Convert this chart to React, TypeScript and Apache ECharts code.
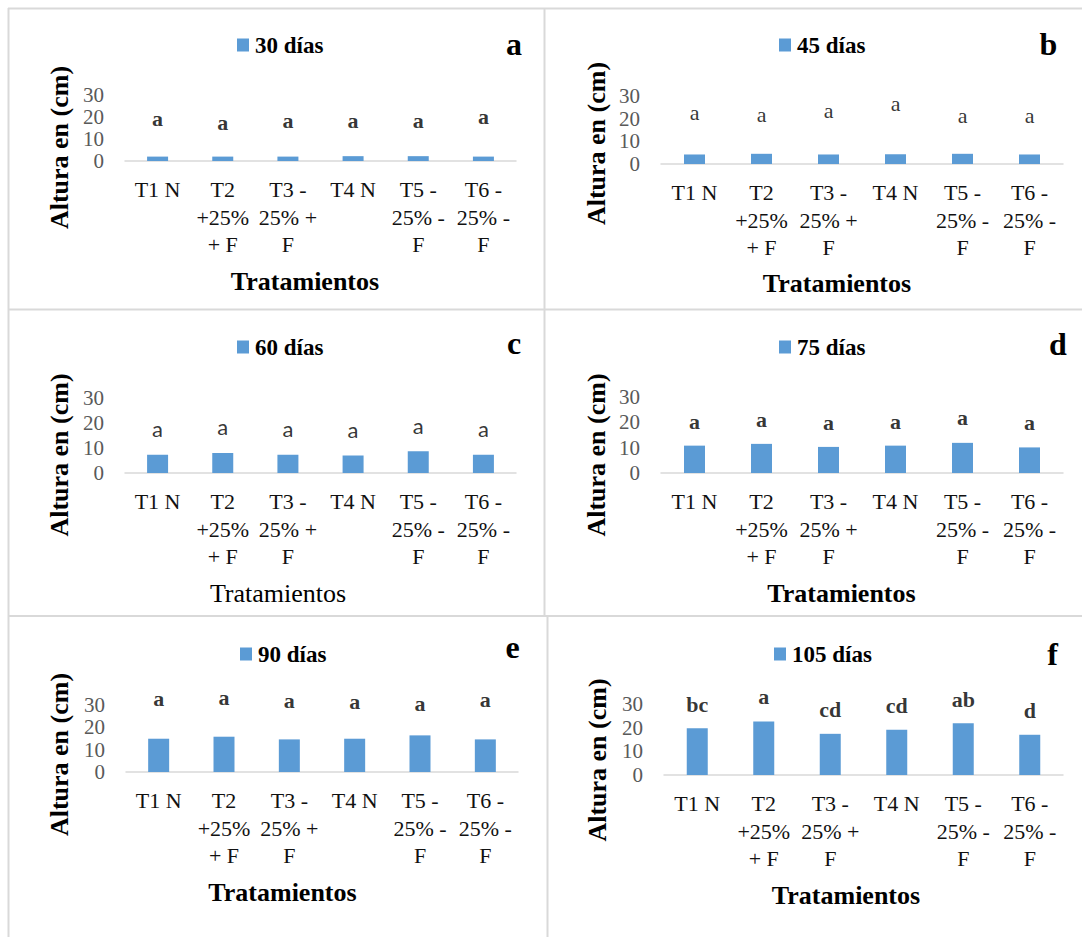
import React, { useEffect, useRef } from "react";
import * as echarts from "echarts";

// ---- Data ----
const categories = [
  "T1 N",
  "T2\n+25%\n+ F",
  "T3 -\n25% +\nF",
  "T4 N",
  "T5 -\n25% -\nF",
  "T6 -\n25% -\nF",
];
const yTicks = [0, 10, 20, 30];
const seriesNames = ["30 días", "45 días", "60 días", "75 días", "90 días", "105 días"];
const panelLetters = ["a", "b", "c", "d", "e", "f"];

const alturas30 = [2.0, 2.0, 2.0, 2.2, 2.2, 2.0];
const alturas45 = [4.2, 4.5, 4.2, 4.3, 4.5, 4.2];
const alturas60 = [7.3, 8.0, 7.3, 7.0, 8.7, 7.3];
const alturas75 = [10.8, 11.5, 10.3, 10.8, 11.9, 10.1];
const alturas90 = [14.9, 15.8, 14.6, 14.9, 16.4, 14.6];
const alturas105 = [19.8, 22.6, 17.4, 19.1, 21.9, 17.0];

// significance letters and the height (axis units) at which they are printed
const letras30 = ["a", "a", "a", "a", "a", "a"];
const posLetras30 = [18.6, 16.4, 17.3, 17.3, 17.7, 19.1];
const letras45 = ["a", "a", "a", "a", "a", "a"];
const posLetras45 = [22.0, 21.1, 22.9, 26.0, 20.3, 20.7];
const letras60 = ["a", "a", "a", "a", "a", "a"];
const posLetras60 = [17.2, 18.0, 17.2, 16.8, 18.4, 17.2];
const letras75 = ["a", "a", "a", "a", "a", "a"];
const posLetras75 = [19.6, 20.3, 19.1, 19.6, 21.1, 19.1];
const letras90 = ["a", "a", "a", "a", "a", "a"];
const posLetras90 = [31.8, 32.3, 31.2, 30.8, 30.0, 31.5];
const letras105 = ["bc", "a", "cd", "cd", "ab", "d"];
const posLetras105 = [30.0, 33.3, 27.8, 29.4, 31.8, 27.3];

const valores = [alturas30, alturas45, alturas60, alturas75, alturas90, alturas105];
const letras = [letras30, letras45, letras60, letras75, letras90, letras105];
const posLetras = [posLetras30, posLetras45, posLetras60, posLetras75, posLetras90, posLetras105];

// ---- Layout / style ----
const SERIF = "Liberation Serif";
const SANS = "Lato";
const BAR = "#5b9bd5";
const BORDER = "#d9d9d9";

const grids = [
  { left: 125, top: 95, width: 391, height: 66 },
  { left: 661, top: 96, width: 402, height: 68 },
  { left: 125, top: 398, width: 391, height: 75 },
  { left: 661, top: 397, width: 402, height: 76 },
  { left: 126, top: 705, width: 392, height: 67 },
  { left: 664, top: 704, width: 399, height: 71 },
];
const legendPos = [
  { left: 237, top: 33.5 },
  { left: 779, top: 33.5 },
  { left: 237, top: 335.5 },
  { left: 779, top: 335.5 },
  { left: 240, top: 642.5 },
  { left: 774, top: 642.5 },
];
const letterStyle = [
  { fontFamily: SERIF, fontWeight: "bold", offset: [0, -2] },
  { fontFamily: SERIF, fontWeight: "normal", offset: [0, -2] },
  { fontFamily: SANS, fontWeight: "normal", offset: [0, -2] },
  { fontFamily: SERIF, fontWeight: "bold", offset: [0, -2] },
  { fontFamily: SERIF, fontWeight: "bold", offset: [0, -2] },
  { fontFamily: SERIF, fontWeight: "bold", offset: [0, 0] },
];
const yTitlePos = [
  [59.5, 147.5],
  [596, 143.5],
  [59.5, 455],
  [596, 455],
  [59.5, 754.5],
  [597, 760],
];
const xTitlePos = [
  [305, 281, "bold"],
  [837, 283, "bold"],
  [278, 593, "normal"],
  [841.5, 593, "bold"],
  [282.5, 892, "bold"],
  [846, 895, "bold"],
];
const panelLetterPos = [
  [514, 44],
  [1048.5, 44],
  [514, 342.5],
  [1058, 344],
  [512.5, 646.5],
  [1052.5, 654],
];

export default function App() {
  const ref = useRef<HTMLDivElement>(null);

  useEffect(() => {
    document.body.style.margin = "0";
    if (!ref.current) return;
    const chart = echarts.init(ref.current, undefined, { renderer: "svg" });

    const xAxis = grids.map((_, i) => ({
      type: "category",
      gridIndex: i,
      data: categories,
      axisLine: { show: true, lineStyle: { color: BORDER, width: 1.5 } },
      axisTick: { show: false },
      axisLabel: {
        interval: 0,
        margin: 15,
        fontFamily: SERIF,
        fontSize: 22,
        lineHeight: 27.5,
        color: "#111",
      },
    }));
    const yAxis = grids.map((_, i) => ({
      type: "value",
      gridIndex: i,
      min: yTicks[0],
      max: yTicks[yTicks.length - 1],
      interval: 10,
      splitLine: { show: false },
      axisLine: { show: false },
      axisTick: { show: false },
      axisLabel: {
        margin: 21,
        fontFamily: SERIF,
        fontSize: 21,
        color: "#595959",
      },
    }));

    const series: any[] = [];
    grids.forEach((_, i) => {
      series.push({
        type: "bar",
        name: seriesNames[i],
        xAxisIndex: i,
        yAxisIndex: i,
        data: valores[i],
        barWidth: 21,
        itemStyle: { color: BAR },
      });
      series.push({
        type: "scatter",
        name: "letras " + seriesNames[i],
        xAxisIndex: i,
        yAxisIndex: i,
        clip: false,
        symbolSize: 1,
        itemStyle: { color: "rgba(0,0,0,0)" },
        data: posLetras[i].map((v, k) => ({ value: v, letra: letras[i][k] })),
        label: {
          show: true,
          position: "inside",
          offset: letterStyle[i].offset,
          formatter: (p: any) => p.data.letra,
          fontFamily: letterStyle[i].fontFamily,
          fontWeight: letterStyle[i].fontWeight,
          fontSize: 22,
          color: "#000",
        },
      });
    });

    const legend = grids.map((_, i) => ({
      data: [seriesNames[i]],
      left: legendPos[i].left,
      top: legendPos[i].top,
      padding: 0,
      icon: "rect",
      itemWidth: 12,
      itemHeight: 13,
      itemGap: 5,
      selectedMode: false,
      textStyle: {
        fontFamily: SERIF,
        fontWeight: "bold",
        fontSize: 23,
        color: "#000",
        padding: [0, 0, 0, 1],
      },
    }));

    const graphic: any[] = [
      // panel frames
      { type: "line", shape: { x1: 8, y1: 8.5, x2: 1082, y2: 8.5 }, style: { stroke: BORDER, lineWidth: 2 } },
      { type: "line", shape: { x1: 8.5, y1: 8, x2: 8.5, y2: 937 }, style: { stroke: BORDER, lineWidth: 2 } },
      { type: "line", shape: { x1: 544.5, y1: 8, x2: 544.5, y2: 616 }, style: { stroke: BORDER, lineWidth: 2 } },
      { type: "line", shape: { x1: 547.5, y1: 616, x2: 547.5, y2: 937 }, style: { stroke: BORDER, lineWidth: 2 } },
      { type: "line", shape: { x1: 8, y1: 309.5, x2: 1082, y2: 309.5 }, style: { stroke: BORDER, lineWidth: 2 } },
      { type: "line", shape: { x1: 8, y1: 616, x2: 1082, y2: 616 }, style: { stroke: BORDER, lineWidth: 2 } },
    ];
    grids.forEach((_, i) => {
      graphic.push({
        type: "text",
        x: yTitlePos[i][0],
        y: yTitlePos[i][1],
        rotation: Math.PI / 2,
        style: {
          text: "Altura en (cm)",
          fontFamily: SERIF,
          fontWeight: "bold",
          fontSize: 26,
          fill: "#000",
          textAlign: "center",
          textVerticalAlign: "middle",
        },
      });
      graphic.push({
        type: "text",
        x: xTitlePos[i][0],
        y: xTitlePos[i][1],
        style: {
          text: "Tratamientos",
          fontFamily: SERIF,
          fontWeight: xTitlePos[i][2],
          fontSize: 26,
          fill: "#000",
          textAlign: "center",
          textVerticalAlign: "middle",
        },
      });
      graphic.push({
        type: "text",
        x: panelLetterPos[i][0],
        y: panelLetterPos[i][1],
        style: {
          text: panelLetters[i],
          fontFamily: SERIF,
          fontWeight: "bold",
          fontSize: 32,
          fill: "#000",
          textAlign: "center",
          textVerticalAlign: "middle",
        },
      });
    });

    chart.setOption({
      animation: false,
      backgroundColor: "#fff",
      grid: grids.map((g) => ({ ...g, containLabel: false })),
      xAxis,
      yAxis,
      legend,
      series,
      graphic,
    });

    return () => {
      chart.dispose();
    };
  }, []);

  return <div ref={ref} style={{ width: 1082, height: 937 }} />;
}
